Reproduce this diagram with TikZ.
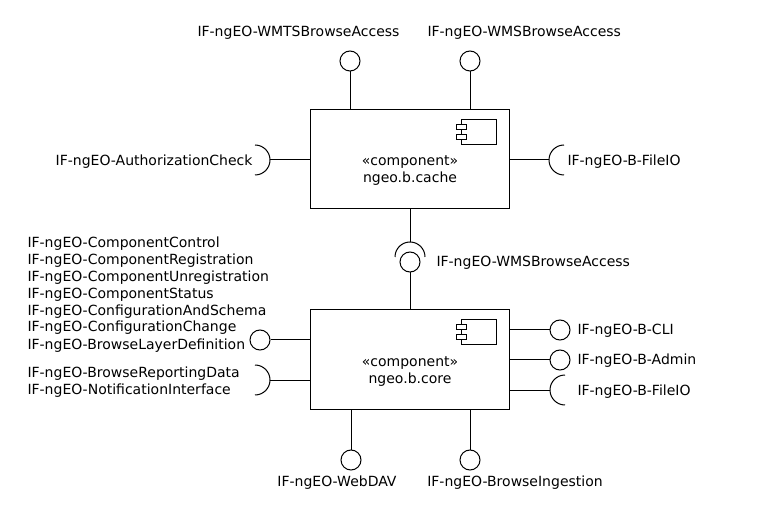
\documentclass[tikz,border=0pt]{standalone}
\usepackage{fontspec}
\setmainfont{DejaVu Sans}
\newcommand\compicon[1]{%
  \begin{scope}[shift={(#1)}]
    \draw (-49,10) rectangle (-14,35);
    \draw[fill=white] (-54,15) rectangle (-44,20);
    \draw[fill=white] (-54,25) rectangle (-44,30);
  \end{scope}}
\begin{document}
\begin{tikzpicture}[x=1pt,y=-1pt,line width=1pt,
  txt/.style={font=\fontsize{14}{17}\selectfont, inner sep=0pt},
  comp/.style={draw, minimum width=199pt, minimum height=99pt, inner sep=0pt},
  lolli/.style={draw, circle, minimum size=20pt, inner sep=0pt}]
\useasboundingbox[fill=white] (0,0) rectangle (760,510);

% components
\node[comp] (cache) at (410,159.5) {};
\node[txt, align=center, anchor=base] (cachet) at (410,183) {«component»\\ngeo.b.cache};
\compicon{cache.north east}
\node[comp] (core) at (410,359.5) {};
\node[txt, align=center, anchor=base] (coret) at (410,383) {«component»\\ngeo.b.core};
\compicon{core.north east}

% top interfaces of cache
\node[lolli] (wmts) at (350,61) {};
\node[lolli] (wms) at (470,61) {};
\node[txt, anchor=base east] (wmtsl) at (400,37) {IF-ngEO-WMTSBrowseAccess};
\node[txt, anchor=base west] (wmsl) at (427,37) {IF-ngEO-WMSBrowseAccess};
\draw (wmts) -- (wmts |- cache.north);
\draw (wms) -- (wms |- cache.north);

% authorization socket
\coordinate (authc) at (255,160);
\coordinate (authe) at (270,160);
\draw (cache.west |- authe) -- (authe);
\draw ([yshift=15pt]authc) arc[start angle=90, end angle=-90, radius=15pt];
\node[txt, anchor=base east] (authl) at (253,166) {IF-ngEO-AuthorizationCheck};

% fileio socket of cache
\coordinate (fioac) at (564,160);
\coordinate (fioae) at (549,160);
\draw (cache.east |- fioae) -- (fioae);
\draw ([yshift=15pt]fioac) arc[start angle=90, end angle=270, radius=15pt];
\node[txt, anchor=base west] (fioal) at (567,166) {IF-ngEO-B-FileIO};

% middle WMS ball and socket
\node[lolli] (mid) at (410,262) {};
\coordinate (midc) at (410,257);
\draw ([xshift=-15pt]midc) arc[start angle=180, end angle=0, radius=15pt];
\draw (cache.south) -- ([yshift=15pt]midc);
\draw (mid) -- (core.north);
\node[txt, anchor=base west] (midl) at (436,267) {IF-ngEO-WMSBrowseAccess};

% core left
\node[lolli] (cfg) at (260,340) {};
\draw (cfg) -- (core.west |- cfg);
\node[txt, anchor=base west, align=left] (cfgl) at (27,349) {IF-ngEO-ComponentControl\\IF-ngEO-ComponentRegistration\\IF-ngEO-ComponentUnregistration\\IF-ngEO-ComponentStatus\\IF-ngEO-ConfigurationAndSchema\\IF-ngEO-ConfigurationChange\\IF-ngEO-BrowseLayerDefinition};
\coordinate (repc) at (255,380);
\coordinate (repe) at (270,380);
\draw (core.west |- repe) -- (repe);
\draw ([yshift=15pt]repc) arc[start angle=90, end angle=-90, radius=15pt];
\node[txt, anchor=base west, align=left] (repl) at (27,394) {IF-ngEO-BrowseReportingData\\IF-ngEO-NotificationInterface};

% core right
\node[lolli] (cli) at (560,330) {};
\node[lolli] (adm) at (560,360) {};
\draw (core.east |- cli) -- (cli);
\draw (core.east |- adm) -- (adm);
\coordinate (fiobc) at (565,390);
\coordinate (fiobe) at (550,390);
\draw (core.east |- fiobe) -- (fiobe);
\draw ([yshift=15pt]fiobc) arc[start angle=90, end angle=270, radius=15pt];
\node[txt, anchor=base west] (clil) at (577,335) {IF-ngEO-B-CLI};
\node[txt, anchor=base west] (adml) at (577,365) {IF-ngEO-B-Admin};
\node[txt, anchor=base west] (fiobl) at (577,395) {IF-ngEO-B-FileIO};

% core bottom
\node[lolli] (dav) at (351,460) {};
\node[lolli] (ing) at (470,460) {};
\draw (dav) -- (dav |- core.south);
\draw (ing) -- (ing |- core.south);
\node[txt, anchor=base] (davl) at (337,486) {IF-ngEO-WebDAV};
\node[txt, anchor=base] (ingl) at (515,486) {IF-ngEO-BrowseIngestion};
\end{tikzpicture}
\end{document}
